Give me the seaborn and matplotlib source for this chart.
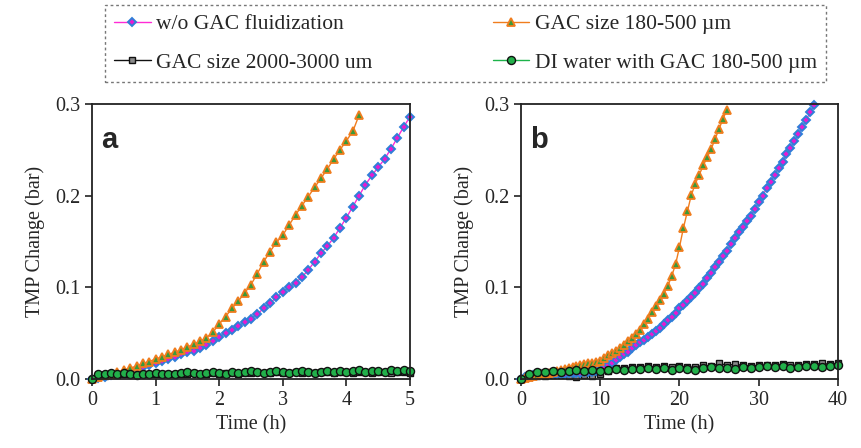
import numpy as np
import matplotlib
matplotlib.use("Agg")
import matplotlib.pyplot as plt
import seaborn as sns

# ---- panel a : short run, sampled every 0.1 h ----
t_a_blue = np.round(np.arange(0, 5.01, 0.1), 2)
wo_gac_a = [0.000, 0.001, 0.002, 0.004, 0.005, 0.007, 0.009, 0.011, 0.013, 0.015,
            0.018, 0.020, 0.022, 0.024, 0.027, 0.029, 0.031, 0.034, 0.037, 0.041,
            0.046, 0.050, 0.054, 0.058, 0.062, 0.066, 0.071, 0.077, 0.083, 0.089,
            0.095, 0.100, 0.105, 0.111, 0.119, 0.128, 0.137, 0.145, 0.154, 0.165,
            0.176, 0.188, 0.200, 0.212, 0.222, 0.231, 0.240, 0.251, 0.263, 0.275,
            0.286]

t_a_orange = np.round(np.arange(0, 4.21, 0.1), 2)
gac_small_a = [0.000, 0.002, 0.004, 0.006, 0.008, 0.010, 0.012, 0.014, 0.017, 0.019,
               0.022, 0.024, 0.027, 0.029, 0.032, 0.035, 0.038, 0.041, 0.045, 0.051,
               0.060, 0.068, 0.077, 0.085, 0.094, 0.103, 0.115, 0.128, 0.139, 0.149,
               0.157, 0.168, 0.179, 0.189, 0.199, 0.209, 0.219, 0.229, 0.240, 0.250,
               0.260, 0.270, 0.288]

t_a_flat = np.round(np.arange(0, 5.01, 0.1), 2)
gac_large_a = [0.000, 0.002, 0.003, 0.004, 0.004, 0.005, 0.005, 0.005, 0.006, 0.005,
               0.006, 0.006, 0.006, 0.005, 0.006, 0.006, 0.007, 0.006, 0.006, 0.007,
               0.006, 0.007, 0.007, 0.006, 0.007, 0.007, 0.008, 0.007, 0.007, 0.008,
               0.007, 0.007, 0.008, 0.007, 0.008, 0.007, 0.008, 0.008, 0.007, 0.008,
               0.008, 0.007, 0.008, 0.008, 0.007, 0.008, 0.008, 0.007, 0.008, 0.008,
               0.007]
di_water_a = [0.000, 0.005, 0.006, 0.007, 0.006, 0.007, 0.006, 0.004, 0.006, 0.005,
              0.007, 0.006, 0.005, 0.006, 0.007, 0.008, 0.007, 0.006, 0.007, 0.008,
              0.007, 0.006, 0.008, 0.007, 0.008, 0.009, 0.008, 0.007, 0.008, 0.009,
              0.008, 0.007, 0.008, 0.009, 0.008, 0.007, 0.008, 0.009, 0.008, 0.009,
              0.008, 0.009, 0.010, 0.008, 0.009, 0.009, 0.008, 0.010, 0.009, 0.010,
              0.009]

# ---- panel b : long run ----
t_b_blue = np.arange(0, 37.01, 0.5)
wo_gac_b = [0.000, 0.002, 0.003, 0.004, 0.004, 0.005, 0.005, 0.005, 0.006, 0.006,
            0.006, 0.006, 0.007, 0.007, 0.007, 0.007, 0.008, 0.008, 0.008, 0.009,
            0.010, 0.012, 0.015, 0.018, 0.021, 0.024, 0.027, 0.030, 0.034, 0.037,
            0.040, 0.043, 0.046, 0.049, 0.052, 0.056, 0.060, 0.064, 0.068, 0.072,
            0.077, 0.081, 0.085, 0.090, 0.094, 0.099, 0.104, 0.110, 0.116, 0.122,
            0.128, 0.134, 0.140, 0.147, 0.154, 0.160, 0.166, 0.172, 0.178, 0.185,
            0.193, 0.200, 0.208, 0.215, 0.223, 0.230, 0.237, 0.245, 0.252, 0.260,
            0.267, 0.275, 0.283, 0.291, 0.299]

t_b_orange = np.arange(0, 26.01, 0.5)
gac_small_b = [0.000, 0.001, 0.002, 0.003, 0.004, 0.005, 0.006, 0.007, 0.008, 0.009,
               0.010, 0.011, 0.012, 0.013, 0.014, 0.015, 0.016, 0.017, 0.018, 0.019,
               0.020, 0.023, 0.026, 0.028, 0.031, 0.034, 0.037, 0.041, 0.045, 0.049,
               0.054, 0.060, 0.066, 0.073, 0.080, 0.086, 0.093, 0.101, 0.112, 0.125,
               0.144, 0.165, 0.183, 0.201, 0.213, 0.223, 0.233, 0.242, 0.251, 0.262,
               0.273, 0.284, 0.294]

t_b_flat = np.arange(0, 40.01, 1.0)
gac_large_b = [0.000, 0.002, 0.003, 0.003, 0.004, 0.004, 0.003, 0.002, 0.004, 0.003,
               0.005, 0.009, 0.012, 0.012, 0.013, 0.013, 0.014, 0.013, 0.014, 0.013,
               0.014, 0.013, 0.013, 0.015, 0.014, 0.017, 0.015, 0.016, 0.015, 0.014,
               0.015, 0.015, 0.015, 0.016, 0.015, 0.015, 0.016, 0.016, 0.017, 0.016,
               0.017]
di_water_b = [0.000, 0.006, 0.008, 0.008, 0.009, 0.008, 0.009, 0.010, 0.009, 0.010,
              0.009, 0.010, 0.011, 0.010, 0.011, 0.011, 0.012, 0.011, 0.012, 0.010,
              0.012, 0.011, 0.010, 0.012, 0.013, 0.012, 0.012, 0.011, 0.013, 0.012,
              0.013, 0.014, 0.013, 0.014, 0.012, 0.013, 0.014, 0.014, 0.013, 0.014,
              0.015]

labels = ["w/o GAC fluidization", "GAC size 180-500 \u00b5m",
          "GAC size 2000-3000 um", "DI water with GAC 180-500 \u00b5m"]

sns.set_style("ticks")
plt.rcParams["font.family"] = ["Liberation Serif", "DejaVu Serif"]

fig = plt.figure(figsize=(8.62, 4.48), dpi=100)
ax_a = fig.add_axes([92 / 862, 1 - 379 / 448, 318 / 862, 275 / 448])
ax_b = fig.add_axes([521 / 862, 1 - 379 / 448, 317 / 862, 275 / 448])

styles = {
    "blue": dict(color="#ff2bd6", marker="D", markersize=4.5, markerfacecolor="#e81ad0",
                 markeredgecolor="#2f7fd8", markeredgewidth=1.4),
    "orange": dict(color="#f07d1e", marker="^", markersize=6, markerfacecolor="#3a9a3a",
                   markeredgecolor="#f07d1e", markeredgewidth=1.3),
    "black": dict(color="#111111", marker="s", markersize=4.4, markerfacecolor="#8a8a8a",
                  markeredgecolor="#111111", markeredgewidth=1.0),
    "green": dict(color="#1db34a", marker="o", markersize=5.8, markerfacecolor="#22b04a",
                  markeredgecolor="#111111", markeredgewidth=1.0),
}

panels = [
    (ax_a, "a", [(t_a_flat, gac_large_a, "black", labels[2]),
                 (t_a_blue, wo_gac_a, "blue", labels[0]),
                 (t_a_orange, gac_small_a, "orange", labels[1]),
                 (t_a_flat, di_water_a, "green", labels[3])], 5, [0, 1, 2, 3, 4, 5]),
    (ax_b, "b", [(t_b_flat, gac_large_b, "black", labels[2]),
                 (t_b_blue, wo_gac_b, "blue", labels[0]),
                 (t_b_orange, gac_small_b, "orange", labels[1]),
                 (t_b_flat, di_water_b, "green", labels[3])], 40, [0, 10, 20, 30, 40]),
]

for ax, letter, series, xmax, xticks in panels:
    for t, v, key, lab in series:
        sns.lineplot(x=t, y=v, ax=ax, linewidth=1.0, label=lab, clip_on=False,
                     **styles[key])
    if ax.get_legend() is not None:
        ax.get_legend().remove()
    ax.set_xlim(0, xmax)
    ax.set_ylim(0, 0.3)
    ax.set_xticks(xticks)
    ax.set_yticks([0.0, 0.1, 0.2, 0.3])
    ax.set_yticklabels(["0.0", "0.1", "0.2", "0.3"])
    ax.set_xlabel("Time (h)", fontsize=14.5, labelpad=4)
    ax.set_ylabel("TMP Change (bar)", fontsize=14.5, labelpad=7)
    ax.tick_params(direction="out", length=5, width=1.2, labelsize=14.5, color="#222222")
    for sp in ax.spines.values():
        sp.set_visible(True)
        sp.set_linewidth(1.3)
        sp.set_color("#222222")
    ax.text(0.03, 0.92, letter, transform=ax.transAxes, fontsize=21, fontweight="bold",
            family="Liberation Sans", va="top", ha="left")

handles, labs = ax_a.get_legend_handles_labels()
order = [labs.index(labels[0]), labs.index(labels[2]),
         labs.index(labels[1]), labs.index(labels[3])]
leg = fig.legend([handles[i] for i in order], [labs[i] for i in order],
                 loc="upper center", bbox_to_anchor=(465.5 / 862, 1 - 5 / 448), ncol=2,
                 fontsize=15.5, frameon=True, fancybox=False, borderaxespad=0,
                 handlelength=1.7, handletextpad=0.25, columnspacing=5.6,
                 labelspacing=0.85, borderpad=0.43)
frame = leg.get_frame()
frame.set_linestyle((0, (2, 2)))
frame.set_edgecolor("#555555")
frame.set_linewidth(1.0)

fig.savefig("out.png", dpi=100)
